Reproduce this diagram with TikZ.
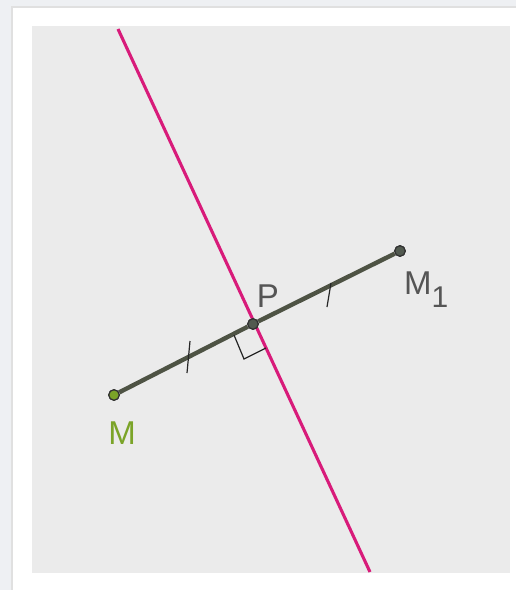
\documentclass[tikz,border=0pt]{standalone}
\usepackage{fontspec}
\setmainfont{Liberation Sans}
\usetikzlibrary{calc}
\definecolor{pagebg}{HTML}{EEF0F3}
\definecolor{panelbg}{HTML}{EBEBEB}
\definecolor{perpline}{HTML}{D81B7A}
\definecolor{segcol}{HTML}{4E5344}
\definecolor{ptgreen}{HTML}{7BA428}
\definecolor{ptdark}{HTML}{525A50}
\definecolor{labelgray}{HTML}{555555}

\begin{document}
\begin{tikzpicture}[x=1pt,y=-1pt,
    pt/.style={circle,draw=black!80,line width=1.2pt,inner sep=0pt,minimum size=10.5pt},
    lbl/.style={font=\fontsize{33}{38}\selectfont,inner sep=0pt}]
    % page, card and drawing panel
    \fill[pagebg] (0,0) rectangle (516,590);
    \fill[black!12] (11,6) rectangle (516,590);
    \fill[white] (13,8) rectangle (516,590);
    \fill[panelbg] (32,26) rectangle (510,573);
    \useasboundingbox (0,0) rectangle (516,590);
    % the perpendicular line
    \coordinate (top) at (118,29);
    \coordinate (bot) at (370,572);
    \draw[perpline,line width=3.1pt] (top)--(bot);
    % the segment and its points
    \node[pt,fill=ptgreen] (M) at (114,395) {};
    \node[pt,fill=ptdark] (P) at (253,324) {};
    \node[pt,fill=ptdark] (M1) at (400,251) {};
    \draw[segcol,line width=4.4pt] (M)--(P);
    \draw[segcol,line width=4.4pt] (P)--(M1);
    % right angle mark
    \coordinate (ra1) at (234,335);
    \coordinate (ra2) at (244,359);
    \coordinate (ra3) at (266,348);
    \draw[black!85,line width=1.2pt] (ra1)--(ra2)--(ra3);
    % equal-length ticks
    \coordinate (t1a) at (190,341);
    \coordinate (t1b) at (187,373);
    \coordinate (t2a) at (331,283);
    \coordinate (t2b) at (327,307);
    \draw[black!85,line width=1.2pt] (t1a)--(t1b);
    \draw[black!85,line width=1.2pt] (t2a)--(t2b);
    % redraw points on top
    \node[pt,fill=ptgreen] at (M) {};
    \node[pt,fill=ptdark] at (P) {};
    \node[pt,fill=ptdark] at (M1) {};
    % labels
    \node[lbl,text=ptgreen] (labM) at (122,433) {M};
    \node[lbl,text=labelgray] (labP) at (268,296) {P};
    \node[lbl,text=labelgray,anchor=west] (labM1) at (404,290)
      {M\raisebox{-13pt}{\fontsize{30}{30}\selectfont 1}};
\end{tikzpicture}
\end{document}
